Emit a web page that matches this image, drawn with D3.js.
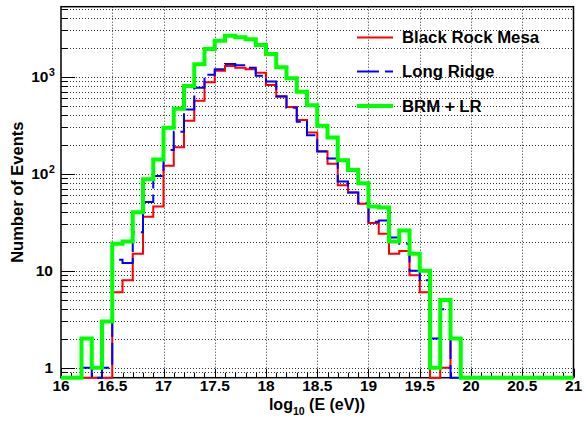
<!DOCTYPE html>
<html>
<head>
<meta charset="utf-8">
<script src="https://cdn.jsdelivr.net/npm/d3@7"></script>
<style>
  html, body { margin: 0; padding: 0; background: #fff; }
  svg text { font-family: "Liberation Sans", Arial, Helvetica, sans-serif; font-weight: bold; fill: #000; }
</style>
</head>
<body>
<div id="chart"></div>
<script>
// lower edge of each 0.1-wide log10(E) bin
const binStart = [
  16.0, 16.1, 16.2, 16.3, 16.4, 16.5, 16.6, 16.7, 16.8, 16.9,
  17.0, 17.1, 17.2, 17.3, 17.4, 17.5, 17.6, 17.7, 17.8, 17.9,
  18.0, 18.1, 18.2, 18.3, 18.4, 18.5, 18.6, 18.7, 18.8, 18.9,
  19.0, 19.1, 19.2, 19.3, 19.4, 19.5, 19.6, 19.7, 19.8, 19.9,
  20.0, 20.1, 20.2, 20.3, 20.4, 20.5, 20.6, 20.7, 20.8, 20.9
];
const binEnd = 21;

const blackRockMesa = [
  0, 0, 0, 0, 0, 6, 8, 15, 36, 46,
  121, 188, 352, 566, 875, 1153, 1289, 1238, 1191, 1099,
  821, 622, 487, 358, 266, 171, 127, 76, 64, 49,
  31, 24, 15, 16, 9, 6, 0, 1, 2, 0,
  0, 0, 0, 0, 0, 0, 0, 0, 0, 0
];
const longRidge = [
  0, 0, 1, 0, 1, 13, 12, 25, 51, 95,
  176, 271, 460, 770, 1050, 1195, 1355, 1310, 1240, 1025,
  893, 628, 478, 344, 250, 170, 144, 83, 64, 50,
  32, 33, 22, 19, 10, 8, 2, 4, 0, 0,
  0, 0, 0, 0, 0, 0, 0, 0, 0, 0
];
const brmPlusLr = [
  0, 0, 2, 1, 3, 19, 20, 40, 88, 140,
  298, 468, 802, 1343, 1932, 2350, 2648, 2548, 2430, 2123,
  1714, 1250, 963, 700, 507, 313, 237, 138, 109, 80,
  46, 45, 20, 26, 15, 10, 1, 5, 2, 0,
  0, 0, 0, 0, 0, 0, 0, 0, 0, 0
];

const xTicks = [16, 16.5, 17, 17.5, 18, 18.5, 19, 19.5, 20, 20.5, 21];
const yTicks = [1, 10, 100, 1000];
const yTickLabels = [["1", ""], ["10", ""], ["10", "2"], ["10", "3"]];
const legendNames = ["Black Rock Mesa", "Long Ridge", "BRM + LR"];

const width = 584, height = 426;
const frame = { left: 61, right: 573.5, top: 6.7, bottom: 377.7 };
const yMin = 0.79, yMax = 5270;

const svg = d3.select("#chart").append("svg")
  .attr("width", width)
  .attr("height", height);

const x = d3.scaleLinear().domain([16, 21]).range([frame.left, frame.right]);
const y = d3.scaleLog().domain([yMin, yMax]).range([frame.bottom, frame.top]);

// grid
const minorY = [];
[0.1, 1, 10, 100, 1000].forEach(dec => {
  for (let k = 1; k <= 9; k++) {
    const v = dec * k;
    if (v >= yMin && v <= yMax) minorY.push(v);
  }
});

const grid = svg.append("g")
  .attr("stroke", "#333")
  .attr("stroke-width", 1)
  .attr("stroke-dasharray", "1 2");

grid.selectAll(".hgrid")
  .data(minorY)
  .join("line")
  .attr("x1", frame.left).attr("x2", frame.right)
  .attr("y1", d => Math.round(y(d)) + 0.5)
  .attr("y2", d => Math.round(y(d)) + 0.5);

grid.selectAll(".vgrid")
  .data(xTicks.slice(1, -1))
  .join("line")
  .attr("y1", frame.top).attr("y2", frame.bottom)
  .attr("x1", d => Math.round(x(d)) + 0.5)
  .attr("x2", d => Math.round(x(d)) + 0.5);

// axis ticks (drawn inward, ROOT style)
const ticks = svg.append("g").attr("stroke", "#000").attr("stroke-width", 1);

ticks.selectAll(".ytick")
  .data(minorY)
  .join("line")
  .attr("x1", frame.left)
  .attr("x2", d => frame.left + (yTicks.includes(d) ? 14 : 7))
  .attr("y1", d => Math.round(y(d)) + 0.5)
  .attr("y2", d => Math.round(y(d)) + 0.5);

const xMinor = binStart.concat([binEnd]);
ticks.selectAll(".xtick")
  .data(xMinor)
  .join("line")
  .attr("x1", d => Math.round(x(d)) + 0.5)
  .attr("x2", d => Math.round(x(d)) + 0.5)
  .attr("y1", frame.bottom)
  .attr("y2", (d, i) => frame.bottom - (i % 5 === 0 ? 9 : 5));

// histograms
function stepPoints(values) {
  const pts = values.map((v, i) => ({ e: binStart[i], v }));
  pts.push({ e: binEnd, v: values[values.length - 1] });
  return pts;
}

const line = d3.line()
  .x(d => x(d.e))
  .y(d => y(Math.max(d.v, yMin)))
  .curve(d3.curveStepAfter);

const series = [
  { name: legendNames[0], values: blackRockMesa, color: "#ff0000", width: 2, dash: null },
  { name: legendNames[1], values: longRidge, color: "#0000ff", width: 2, dash: "22 6" },
  { name: legendNames[2], values: brmPlusLr, color: "#00ff00", width: 4, dash: null }
];

// frame
svg.append("rect")
  .attr("x", frame.left)
  .attr("y", frame.top)
  .attr("width", frame.right - frame.left)
  .attr("height", frame.bottom - frame.top)
  .attr("fill", "none")
  .attr("stroke", "#000")
  .attr("stroke-width", 1.5);

series.forEach(s => {
  svg.append("path")
    .datum(stepPoints(s.values))
    .attr("fill", "none")
    .attr("stroke", s.color)
    .attr("stroke-width", s.width)
    .attr("stroke-dasharray", s.dash)
    .attr("d", line);
});

// tick labels
svg.append("g")
  .selectAll("text")
  .data(xTicks)
  .join("text")
  .attr("x", d => x(d))
  .attr("y", 391)
  .attr("text-anchor", "middle")
  .style("font-size", "15.5px")
  .text(d => d);

svg.append("g")
  .selectAll("text")
  .data(yTicks)
  .join("text")
  .attr("x", (d, i) => yTickLabels[i][1] ? 48.5 : 53)
  .attr("y", d => y(d) + 5.5)
  .attr("text-anchor", "end")
  .style("font-size", "15.5px")
  .text((d, i) => yTickLabels[i][0]);

svg.append("g")
  .selectAll("text")
  .data(yTicks.filter((d, i) => yTickLabels[i][1]))
  .join("text")
  .attr("x", 49)
  .attr("y", d => y(d) - 0.5)
  .style("font-size", "10.5px")
  .text(d => yTickLabels[yTicks.indexOf(d)][1]);

// axis titles
svg.append("text")
  .attr("transform", `translate(23, ${(frame.top + frame.bottom) / 2}) rotate(-90)`)
  .attr("text-anchor", "middle")
  .style("font-size", "16.5px")
  .text("Number of Events");

const xt = svg.append("text")
  .attr("x", 317)
  .attr("y", 410)
  .attr("text-anchor", "middle")
  .style("font-size", "16px");
xt.append("tspan").text("log");
xt.append("tspan").attr("dy", 5).style("font-size", "10.5px").text("10");
xt.append("tspan").attr("dy", -5).text(" (E (eV))");

// legend
const legendY = [37.5, 71.5, 106];
const legend = svg.append("g");
series.forEach((s, i) => {
  legend.append("line")
    .attr("x1", 357).attr("x2", 393)
    .attr("y1", legendY[i]).attr("y2", legendY[i])
    .attr("stroke", s.color)
    .attr("stroke-width", s.width)
    .attr("stroke-dasharray", s.dash);
  legend.append("text")
    .attr("x", 402)
    .attr("y", legendY[i] + 5.8)
    .style("font-size", "16.8px")
    .text(s.name);
});
</script>
</body>
</html>
